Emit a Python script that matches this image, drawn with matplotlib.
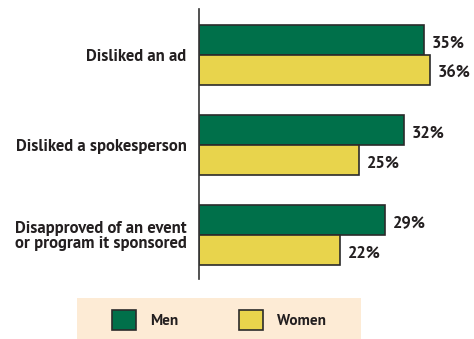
import matplotlib
matplotlib.use("Agg")
import matplotlib.pyplot as plt
from matplotlib.patches import Rectangle
from matplotlib import font_manager

categories = ["Disliked an ad", "Disliked a spokesperson",
              "Disapproved of an event\nor program it sponsored"]
series_names = ["Men", "Women"]
men = [35, 32, 29]
women = [36, 25, 22]

green = "#00704A"
yellow = "#E8D44C"
edge = "#2B2B2B"
text_col = "#231F20"
legend_bg = "#FDEBD5"

available = {f.name for f in font_manager.fontManager.ttflist}
family = next((f for f in ("PT Sans", "Open Sans", "Liberation Sans")
               if f in available), "DejaVu Sans")
plt.rcParams["font.family"] = [family, "DejaVu Sans"]

W, H = 474, 339
fig = plt.figure(figsize=(W / 100, H / 100), dpi=100)
ax = fig.add_axes([199 / W, (H - 279) / H, 269.6 / W, 270 / H])

bh = 1 / 3
ypos = list(range(len(categories)))
bars_m = ax.barh([y - bh / 2 for y in ypos], men, height=bh, color=green,
                 edgecolor=edge, linewidth=1.2, label=series_names[0])
bars_w = ax.barh([y + bh / 2 for y in ypos], women, height=bh, color=yellow,
                 edgecolor=edge, linewidth=1.2, label=series_names[1])

for bars, vals in ((bars_m, men), (bars_w, women)):
    for b, v in zip(bars, vals):
        ax.annotate(f"{v}%", (v, b.get_y() + b.get_height() / 2),
                    xytext=(5.5, -2), textcoords="offset points",
                    ha="left", va="center", fontsize=12, fontweight="bold",
                    color=text_col, clip_on=False)

ax.set_xlim(0, 42)
ax.set_ylim(2.489, -0.511)
ax.set_yticks(ypos)
ax.set_yticklabels(categories, fontsize=12, fontweight="bold", color=text_col,
                   linespacing=1.0)
ax.tick_params(axis="y", length=0, pad=9)
ax.set_xticks([])
for s in ("top", "right", "bottom"):
    ax.spines[s].set_visible(False)
ax.spines["left"].set_color("#333333")
ax.spines["left"].set_linewidth(1.2)
ax.set_facecolor("none")

# legend panel
fig.add_artist(Rectangle((77 / W, 0), (361 - 77) / W, (H - 298) / H,
                         transform=fig.transFigure, facecolor=legend_bg,
                         edgecolor="none", zorder=0))
fig.legend(handles=[bars_m, bars_w], labels=series_names, ncol=2,
           loc="center", bbox_to_anchor=(219 / W, 1 - 320 / H),
           frameon=False, prop={"family": family, "weight": "bold", "size": 11},
           handlelength=1.57, handleheight=1.57, handletextpad=0.92,
           columnspacing=4.0, labelcolor=text_col)

fig.savefig("out.png", dpi=100)
